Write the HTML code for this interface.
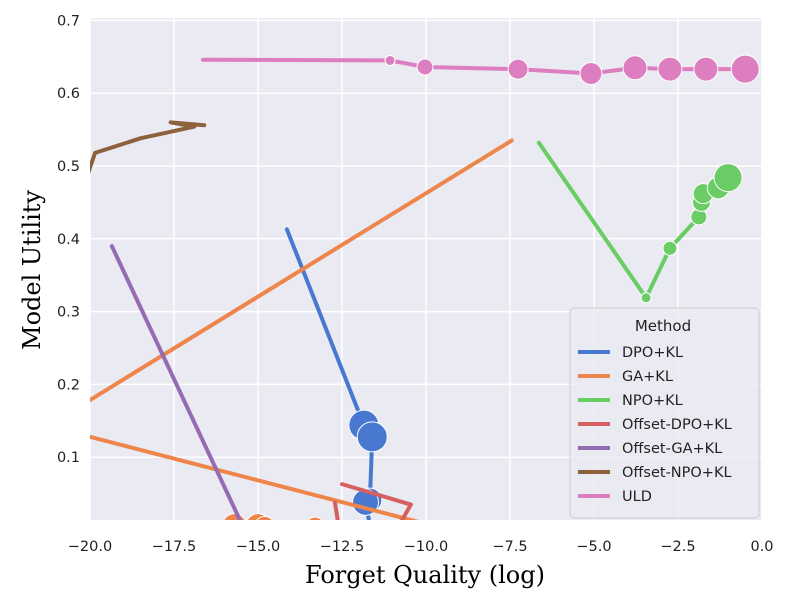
<!DOCTYPE html>
<html><head><meta charset="utf-8"><style>
body{margin:0;background:#fff;}
svg{display:block;font-family:"DejaVu Sans","Liberation Sans",sans-serif;}
</style></head><body>
<svg id="chart" width="790" height="602">
<defs><clipPath id="clip"><rect x="90" y="18" width="672" height="502"/></clipPath></defs>
<rect x="90" y="18" width="672" height="502" fill="#eaeaf2"/>
<g id="grid"></g><g id="ticks"></g>
<g id="series" clip-path="url(#clip)"></g>
<text x="425" y="583" text-anchor="middle" font-family="'DejaVu Serif','Liberation Serif',serif" font-size="24">Forget Quality (log)</text>
<text transform="translate(40,270) rotate(-90)" text-anchor="middle" font-family="'DejaVu Serif','Liberation Serif',serif" font-size="24">Model Utility</text>
<g id="legend"></g>
</svg>
<script>
const xTicks=[-20,-17.5,-15,-12.5,-10,-7.5,-5,-2.5,0];
const yTicks=[0.1,0.2,0.3,0.4,0.5,0.6,0.7];
const seriesNames=["DPO+KL","GA+KL","NPO+KL","Offset-DPO+KL","Offset-GA+KL","Offset-NPO+KL","ULD"];
const colors=["#4878d0","#ee854a","#6acc64","#d65f5f","#956cb4","#8c613c","#dc7ec0"];
const dpoX=[-14.14,-11.85,-11.6,-11.67,-11.8,-11.6];
const dpoY=[0.413,0.144,0.128,0.041,0.038,-0.01];
const dpoR=[0,15,15,12,13,10];
const gaX=[-7.45,-21.25,-9.3,-15.7,-15.0,-14.8,-13.3,-12.4,-11.8];
const gaY=[0.535,0.143,0.0,0.006,0.006,0.005,0.004,0.002,0.002];
const gaR=[0,0,0,12,12,10,10,8,8];
const npoX=[-6.64,-3.45,-2.74,-1.88,-1.8,-1.75,-1.3,-1.01];
const npoY=[0.532,0.319,0.387,0.43,0.45,0.462,0.47,0.484];
const npoR=[0,5,7,8,9,10,11,14];
const odpoX=[-12.71,-12.55,-11.0,-10.45,-12.5];
const odpoY=[0.038,-0.01,-0.01,0.035,0.063];
const ogaX=[-19.35,-15.4];
const ogaY=[0.39,0.0];
const onpoX=[-20.5,-19.85,-18.5,-16.9,-17.6,-16.6];
const onpoY=[0.43,0.518,0.538,0.554,0.56,0.556];
const uldX=[-16.64,-11.07,-10.03,-7.26,-5.09,-3.78,-2.74,-1.67,-0.5];
const uldY=[0.646,0.645,0.636,0.633,0.627,0.635,0.633,0.633,0.633];
const uldR=[0,5,8,10,11,12,12,12,14];

const NS="http://www.w3.org/2000/svg";
const sx=v=>762+33.6*v, sy=v=>530-728*v;
function mk(t,a,p){const e=document.createElementNS(NS,t);for(const k in a)e.setAttribute(k,a[k]);p.appendChild(e);return e;}
const grid=document.getElementById('grid'),ticks=document.getElementById('ticks');
xTicks.forEach(t=>{
 const l=mk('line',{x1:sx(t),x2:sx(t),y1:18,y2:520,stroke:'#fff','stroke-width':1.5},grid);
 
 
 const tx=mk('text',{x:sx(t),y:551,'text-anchor':'middle','font-size':14.5,fill:'#222'},ticks);
 tx.textContent=t.toFixed(1).replace('-','\u2212');
 
 
});
yTicks.forEach(t=>{
 const l=mk('line',{x1:90,x2:762,y1:sy(t),y2:sy(t),stroke:'#fff','stroke-width':1.5},grid);
 
 
 const tx=mk('text',{x:80,y:sy(t)+5,'text-anchor':'end','font-size':14.5,fill:'#222'},ticks);
 tx.textContent=t.toFixed(1);
 
 
});
const ser=document.getElementById('series');
function draw(name,xs,ys,rs,c){
 const g=mk('g',{},ser);
 
 
 const p=mk('polyline',{points:xs.map((x,i)=>sx(x)+','+sy(ys[i])).join(' '),fill:'none',stroke:c,'stroke-width':4,'stroke-linejoin':'round','stroke-linecap':'round'},g);
 
 
 if(rs) xs.forEach((x,i)=>{ if(rs[i]>0){
  const m=mk('circle',{cx:sx(x),cy:sy(ys[i]),r:rs[i],fill:c,stroke:'#fff','stroke-width':1},g);
  
  
 }});
}
draw(seriesNames[0],dpoX,dpoY,dpoR,colors[0]);
draw(seriesNames[1],gaX,gaY,gaR,colors[1]);
draw(seriesNames[2],npoX,npoY,npoR,colors[2]);
draw(seriesNames[3],odpoX,odpoY,null,colors[3]);
draw(seriesNames[4],ogaX,ogaY,null,colors[4]);
draw(seriesNames[5],onpoX,onpoY,null,colors[5]);
draw(seriesNames[6],uldX,uldY,uldR,colors[6]);
const lg=document.getElementById('legend');
mk('rect',{x:570,y:308,width:189,height:210,rx:4,fill:'#eaeaf2','fill-opacity':0.8,stroke:'#ccc'},lg);
const tt=mk('text',{x:663,y:331,'text-anchor':'middle','font-size':15,fill:'#222'},lg);
tt.textContent='Method';
seriesNames.forEach((n,i)=>{
 const y=352+24*i;
 const ln=mk('line',{x1:578,x2:610,y1:y,y2:y,stroke:colors[i],'stroke-width':4},lg);
 
 
 const t=mk('text',{x:622,y:y+5,'font-size':14.5,fill:'#222'},lg);
 t.textContent=n;
 
 
});
</script>
</body></html>
